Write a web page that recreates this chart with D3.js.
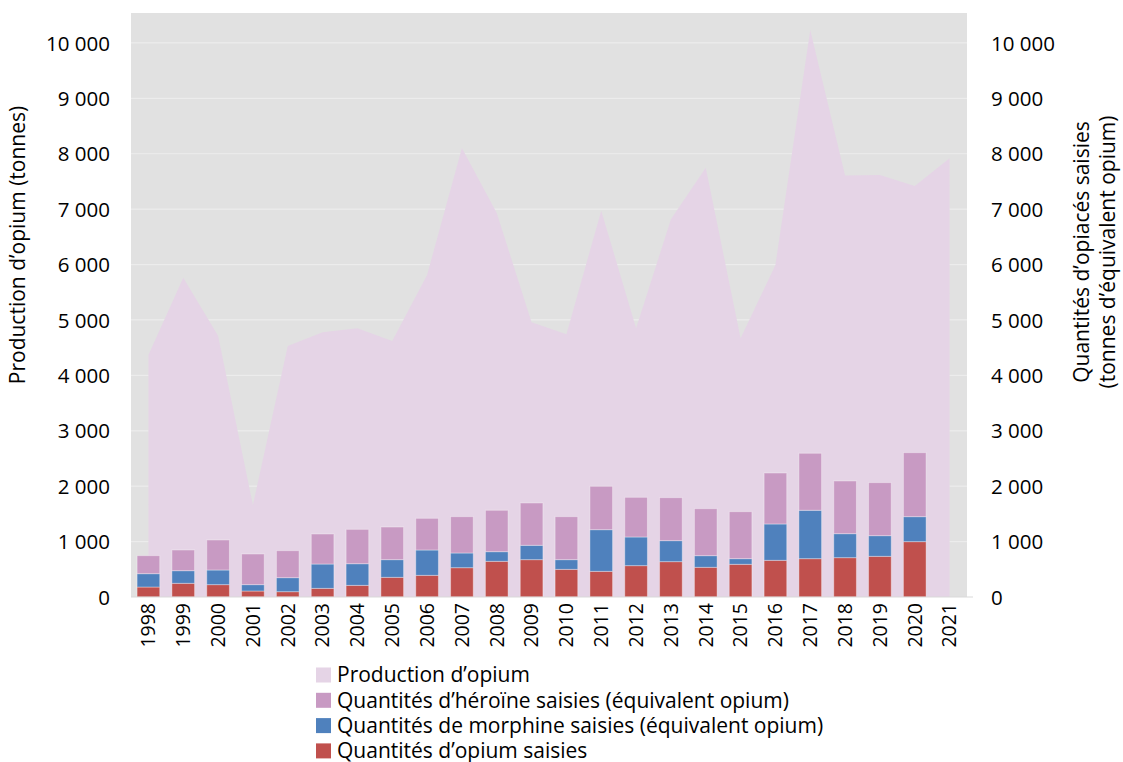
<!DOCTYPE html>
<html>
  <head>
    <meta charset="UTF-8">
    <title>Production d'opium et quantités saisies</title>
    <style>
      body { margin: 0; background: #fff; }
      svg text { font-family: "Open Sans", "Noto Sans", sans-serif; fill: #000; }
    </style>
  </head>
  <body>

    <svg class="chart"></svg>

    <script src="https://d3js.org/d3.v7.min.js"></script>
    <script>

/* DATA (tonnes) */
var years = ["1998","1999","2000","2001","2002","2003","2004","2005","2006","2007","2008",
  "2009","2010","2011","2012","2013","2014","2015","2016","2017","2018","2019","2020","2021"];

var production = [4368, 5764, 4717, 1661, 4531, 4778, 4850, 4621, 5812, 8105, 6931,
  4958, 4742, 6973, 4850, 6817, 7749, 4670, 5993, 10235, 7605, 7617, 7419, 7919];

// seizures, null for 2021 (no data)
var opiumSeized = [180, 247, 223, 108, 96, 156, 210, 355, 391, 529, 644,
  674, 499, 463, 566, 638, 536, 590, 662, 692, 710, 734, 999, null];
var morphineSeized = [241, 228, 264, 115, 253, 439, 391, 319, 457, 265, 174,
  259, 175, 752, 517, 379, 210, 102, 656, 873, 433, 373, 451, null];
var heroinSeized = [325, 373, 542, 553, 487, 542, 620, 589, 572, 656, 747,
  764, 776, 783, 716, 776, 848, 848, 920, 1029, 951, 957, 1155, null];

var yTicks = [0, 1000, 2000, 3000, 4000, 5000, 6000, 7000, 8000, 9000, 10000];

var legendItems = [
  { label: "Production d’opium", color: "#e5d4e6" },
  { label: "Quantités d’héroïne saisies (équivalent opium)", color: "#c89ac3" },
  { label: "Quantités de morphine saisies (équivalent opium)", color: "#4f81bd" },
  { label: "Quantités d’opium saisies", color: "#c0504d" }
];

/* SETUP */
var width = 1123, height = 762;
var margin = { left: 131, right: 156, top: 13, bottom: 165 };

var svg = d3.select("svg")
  .attr("width", width)
  .attr("height", height);

var x = d3.scaleBand()
  .domain(years)
  .range([margin.left, width - margin.right])
  .paddingInner(0.35)
  .paddingOuter(0.175);

var y = d3.scaleLinear()
  .domain([0, 10540])
  .range([height - margin.bottom, margin.top]);

var fmt = function(v) { return d3.format(",")(v).replace(/,/g, " "); };

// plot background
svg.append("rect")
  .attr("x", margin.left)
  .attr("y", margin.top)
  .attr("width", width - margin.left - margin.right)
  .attr("height", y(0) - margin.top)
  .attr("fill", "#e1e1e1");

// gridlines
svg.append("g")
  .attr("class", "grid")
  .selectAll("line")
  .data(yTicks.slice(1))
  .enter().append("line")
    .attr("x1", margin.left)
    .attr("x2", width - margin.right)
    .attr("y1", function(d) { return y(d); })
    .attr("y2", function(d) { return y(d); })
    .attr("stroke", "#ececec")
    .attr("stroke-width", 1.2);

// production area
var center = function(d, i) { return x(years[i]) + x.bandwidth() / 2; };

var area = d3.area()
  .x(function(d, i) { return center(d, i); })
  .y0(y(0))
  .y1(function(d) { return y(d); });

svg.append("path")
  .datum(production)
  .attr("d", area)
  .attr("fill", "#e5d4e6");

// stacked bars
var rows = years.map(function(yr, i) {
  return { year: yr, opium: opiumSeized[i], morphine: morphineSeized[i], heroin: heroinSeized[i] };
}).filter(function(d) { return d.opium != null; });

var stack = d3.stack().keys(["opium", "morphine", "heroin"]);
var barColors = { opium: "#c0504d", morphine: "#4f81bd", heroin: "#c89ac3" };

svg.append("g")
  .attr("class", "bars")
  .selectAll("g")
  .data(stack(rows))
  .enter().append("g")
    .attr("fill", function(s) { return barColors[s.key]; })
  .selectAll("rect")
  .data(function(s) { return s; })
  .enter().append("rect")
    .attr("x", function(d) { return x(d.data.year); })
    .attr("width", x.bandwidth())
    .attr("y", function(d) { return y(d[1]); })
    .attr("height", function(d) { return y(d[0]) - y(d[1]); })
    .attr("stroke", "#ffffff")
    .attr("stroke-opacity", 0.35)
    .attr("stroke-width", 1);

// baseline
svg.append("line")
  .attr("x1", margin.left)
  .attr("x2", width - margin.right + 6)
  .attr("y1", y(0))
  .attr("y2", y(0))
  .attr("stroke", "#d9d9d9")
  .attr("stroke-width", 1);

// left axis
var leftAxis = svg.append("g")
  .attr("transform", "translate(" + (margin.left - 21) + ",0)")
  .call(d3.axisLeft(y).tickValues(yTicks).tickFormat(fmt).tickSize(0).tickPadding(0));
leftAxis.select(".domain").remove();
leftAxis.selectAll("text")
  .style("font-size", "20.5px")
  .attr("dy", "0.35em");

// right axis
var rightAxis = svg.append("g")
  .attr("transform", "translate(" + (width - margin.right + 24) + ",0)")
  .call(d3.axisRight(y).tickValues(yTicks).tickFormat(fmt).tickSize(0).tickPadding(0));
rightAxis.select(".domain").remove();
rightAxis.selectAll("text")
  .style("font-size", "20.5px")
  .attr("dy", "0.35em");

// x axis (rotated years)
var xAxis = svg.append("g")
  .attr("transform", "translate(0," + y(0) + ")")
  .call(d3.axisBottom(x).tickSize(0).tickPadding(0));
xAxis.select(".domain").remove();
xAxis.selectAll("text")
  .style("font-size", "19.5px")
  .attr("text-anchor", "end")
  .attr("transform", "rotate(-90)")
  .attr("x", -6)
  .attr("y", 0)
  .attr("dy", "0.35em");

// axis titles
svg.append("text")
  .attr("transform", "translate(25,245) rotate(-90)")
  .attr("text-anchor", "middle")
  .style("font-size", "21px")
  .text("Production d’opium (tonnes)");

svg.append("text")
  .attr("transform", "translate(1089,252) rotate(-90)")
  .attr("text-anchor", "middle")
  .style("font-size", "21px")
  .selectAll("tspan")
  .data(["Quantités d’opiacés saisies", "(tonnes d’équivalent opium)"])
  .enter().append("tspan")
    .attr("x", 0)
    .attr("dy", function(d, i) { return i === 0 ? 0 : "1.25em"; })
    .text(function(d) { return d; });

// legend
var legend = svg.append("g")
  .attr("transform", "translate(316,675)");

var item = legend.selectAll("g")
  .data(legendItems)
  .enter().append("g")
    .attr("transform", function(d, i) { return "translate(0," + (i * 25.3) + ")"; });

item.append("rect")
  .attr("x", 0)
  .attr("y", -7.5)
  .attr("width", 15)
  .attr("height", 15)
  .attr("fill", function(d) { return d.color; });

item.append("text")
  .attr("x", 21)
  .attr("dy", "0.35em")
  .style("font-size", "21px")
  .text(function(d) { return d.label; });

    </script>
  </body>
</html>
